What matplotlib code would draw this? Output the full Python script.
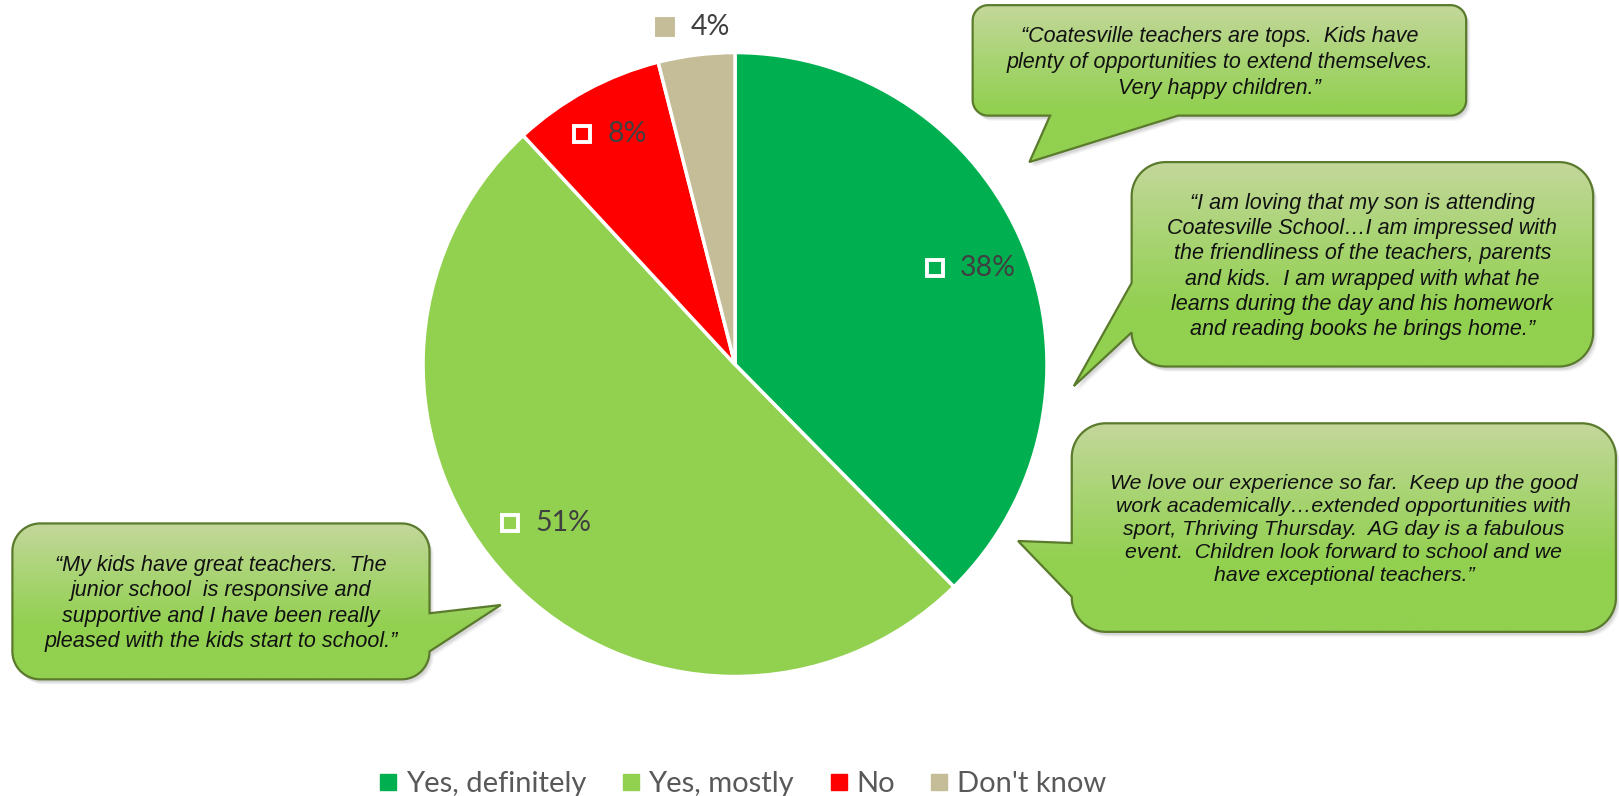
import numpy as np
import matplotlib.pyplot as plt
from matplotlib.path import Path
from matplotlib.patches import PathPatch
from matplotlib.lines import Line2D
from matplotlib.colors import LinearSegmentedColormap

# survey answers
categories = ["Yes, definitely", "Yes, mostly", "No", "Don't know"]
shares = [38, 51, 8, 4]
colours = ["#00b050", "#92d050", "#ff0000", "#c4bd97"]
label_dist = [0.815, 0.79, 0.84, 1.09]
label_turn = [0, -3.8, 0, 0]

# parent comments shown in the speech bubbles
quotes = [
    "\u201cCoatesville teachers are tops.  Kids have\nplenty of opportunities to extend themselves.\nVery happy children.\u201d",
    "\u201cI am loving that my son is attending\nCoatesville School\u2026I am impressed with\nthe friendliness of the teachers, parents\nand kids.  I am wrapped with what he\nlearns during the day and his homework\nand reading books he brings home.\u201d",
    "We love our experience so far.  Keep up the good\nwork academically\u2026extended opportunities with\nsport, Thriving Thursday.  AG day is a fabulous\nevent.  Children look forward to school and we\nhave exceptional teachers.\u201d",
    "\u201cMy kids have great teachers.  The\njunior school  is responsive and\nsupportive and I have been really\npleased with the kids start to school.\u201d",
]
quote_size = [15.5, 15.5, 15.3, 15.5]
quote_spacing = [1.34, 1.27, 1.27, 1.27]

# bubble boxes (x0, y0, x1, y1, corner radius) and tails (edge, base1, tip, base2)
boxes = [
    (942, 5, 1420, 112, 15),
    (1096, 157, 1543, 355, 33),
    (1038, 410, 1565, 612, 33),
    (12, 507, 416, 658, 27),
]
tails = [
    ("bottom", (1141, 112), (997, 157), (1017, 112)),
    ("left", (1096, 322), (1040, 374), (1096, 274)),
    ("left", (1038, 578), (986, 524), (1038, 526)),
    ("right", (416, 594), (485, 586), (416, 631)),
]


def bubble_path(box, tail):
    x0, y0, x1, y1, r = box
    corners = {
        "top": ((x0 + r, y0 + r), 180, 270),
        "right": ((x1 - r, y0 + r), 270, 360),
        "bottom": ((x1 - r, y1 - r), 0, 90),
        "left": ((x0 + r, y1 - r), 90, 180),
    }
    pts = []
    for edge in ["top", "right", "bottom", "left"]:
        (cx, cy), a0, a1 = corners[edge]
        t = np.radians(np.linspace(a0, a1, 24))
        pts += list(zip(cx + r * np.cos(t), cy + r * np.sin(t)))
        if tail[0] == edge:
            pts += [tail[1], tail[2], tail[3]]
    pts.append(pts[0])
    codes = [Path.MOVETO] + [Path.LINETO] * (len(pts) - 2) + [Path.CLOSEPOLY]
    return Path(np.array(pts), codes)


fig = plt.figure(figsize=(16.19, 7.96), dpi=100)

# pie, centre (735, 364) px, radius 312 px
ax = fig.add_axes([0.2613, 0.1501, 0.3854, 0.7839])
wedges, _ = ax.pie(shares, colors=colours, startangle=90, counterclock=False,
                   wedgeprops=dict(edgecolor="white", linewidth=2.5))
ax.set_xlim(-1, 1)
ax.set_ylim(-1, 1)

renderer = fig.canvas.get_renderer()
px_unit = 312.0  # pixels per pie radius
for w, val, d, turn in zip(wedges, shares, label_dist, label_turn):
    mid = np.radians((w.theta1 + w.theta2) / 2 + turn)
    cx, cy = d * np.cos(mid), d * np.sin(mid)
    t = ax.text(0, cy, f"{val}%", ha="left", va="center", fontsize=20.5,
                family="Lato", color="#404040", clip_on=False)
    tw = t.get_window_extent(renderer).width / px_unit
    left = cx - (9.5 / px_unit + 25 / px_unit + tw) / 2
    mx = left + 9.5 / px_unit
    t.set_x(mx + 25 / px_unit)
    ax.plot(mx, cy, marker="s", ms=11, mfc=w.get_facecolor(),
            mec="white" if d < 1 else w.get_facecolor(), mew=2.8, clip_on=False)

handles = [Line2D([], [], ls="", marker="s", ms=11, mfc=c, mec=c) for c in colours]
fig.legend(handles, categories, loc="center", bbox_to_anchor=(0.458, 0.015),
           ncol=4, frameon=False, handlelength=0.8, handletextpad=0.2,
           columnspacing=1.13, prop=dict(family="Lato", size=21),
           labelcolor="#595959")

# speech bubbles drawn in pixel space
ov = fig.add_axes([0, 0, 1, 1])
ov.set_zorder(3)
green = LinearSegmentedColormap.from_list("bub", ["#c4d79b", "#a9d474", "#92d050", "#92d050"])
grad = np.linspace(0, 1, 256).reshape(-1, 1)

for box, tail, q, fs, ls in zip(boxes, tails, quotes, quote_size, quote_spacing):
    path = bubble_path(box, tail)
    for k, a in [(4, 0.06), (3, 0.08), (2, 0.12)]:
        sh = Path(path.vertices + [k, k + 1], path.codes)
        ov.add_patch(PathPatch(sh, fc="#555555", ec="none", alpha=a))
    xs, ys = path.vertices[:, 0], path.vertices[:, 1]
    patch = PathPatch(path, fc="none", ec="#5a7a2c", lw=1.6, zorder=3)
    img = ov.imshow(grad, cmap=green, aspect="auto", origin="upper",
                    extent=(xs.min(), xs.max(), ys.max(), ys.min()), zorder=2)
    ov.add_patch(patch)
    img.set_clip_path(patch)
    x0, y0, x1, y1, _ = box
    ov.text((x0 + x1) / 2, (y0 + y1) / 2 + 2, q, ha="center", va="center",
            family="Liberation Sans", style="italic", fontsize=fs,
            linespacing=ls, color="#111111", zorder=4)

ov.set_xlim(0, 1568)
ov.set_ylim(771, 0)
ov.axis("off")

fig.savefig("out.png", dpi=100)
